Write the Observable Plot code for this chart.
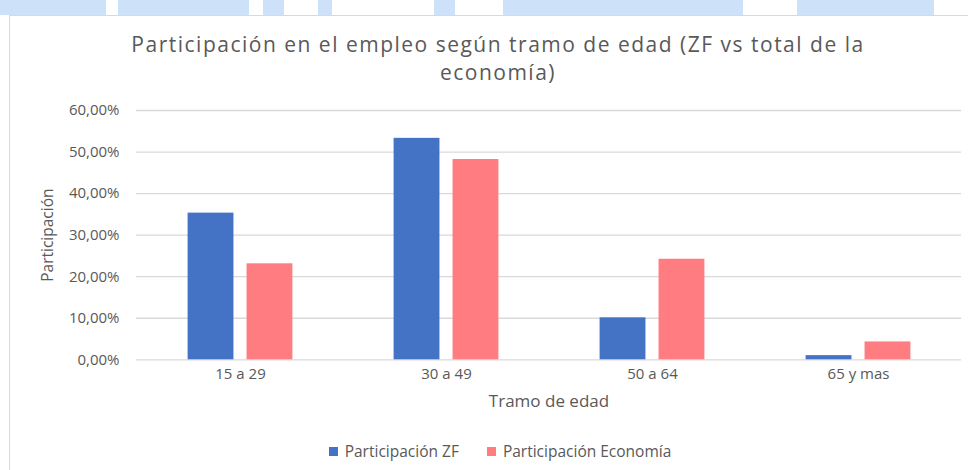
<!DOCTYPE html>
<html>
<head>
<meta charset="utf-8">
<script src="https://cdn.jsdelivr.net/npm/d3@7"></script>
<script src="https://cdn.jsdelivr.net/npm/@observablehq/plot@0.6"></script>
<style>
  html, body { margin: 0; padding: 0; background: #fff; }
  body { width: 968px; height: 470px; overflow: hidden; position: relative; font-family: "Open Sans", sans-serif; }
  .strip { position: absolute; top: 0; height: 15px; background: #cde2f8; }
  #frame { position: absolute; left: 9px; top: 15px; width: 980px; height: 480px;
           border-left: 1.5px solid #d9d9d9; border-top: 1.5px solid #d9d9d9; }
  #title { position: absolute; left: 0; top: 29.5px; width: 996px; text-align: center;
           font-size: 21px; letter-spacing: 1.5px; line-height: 28.8px; color: #595959; }
  #chart { position: absolute; left: 0; top: 95px; }
  #legend { position: absolute; left: 0; top: 440px; width: 1000px; display: flex; justify-content: center;
            gap: 28px; font-size: 15.5px; color: #595959; line-height: 22px; }
  .item { display: flex; align-items: center; gap: 7px; }
  .sw { width: 9px; height: 9px; display: inline-block; }
</style>
</head>
<body>
<div id="frame"></div>
<div id="title">Participación en el empleo según tramo de edad (ZF vs total de la<br>economía)</div>
<div id="chart"></div>
<div id="legend"></div>
<script>
const categories = ["15 a 29", "30 a 49", "50 a 64", "65 y mas"];
const series = ["Participación ZF", "Participación Economía"];
const zfValues = [0.353, 0.533, 0.101, 0.010];
const ecoValues = [0.231, 0.482, 0.242, 0.043];
const colors = ["#4472C4", "#FF7C80"];
const yTicks = [0, 0.1, 0.2, 0.3, 0.4, 0.5, 0.6];
const yDomain = [0, 0.6];

// decorative strip at top of the screenshot
const stripSegments = [[0,106],[118,249],[263,284],[318,332],[434,455],[503,743],[797,934]];
for (const [a, b] of stripSegments) {
  const d = document.createElement("div");
  d.className = "strip";
  d.style.left = a + "px";
  d.style.width = (b - a) + "px";
  document.body.appendChild(d);
}

const zfRows = categories.map((c, i) => ({cat: c, serie: series[0], value: zfValues[i]}));
const ecoRows = categories.map((c, i) => ({cat: c, serie: series[1], value: ecoValues[i]}));

const fmt = d => (d * 100).toFixed(2).replace(".", ",") + "%";
const ink = "#595959";

const chart = Plot.plot({
  width: 968,
  height: 330,
  marginLeft: 136,
  marginRight: 7,
  marginTop: 15,
  marginBottom: 65.7,
  style: {fontFamily: "'Open Sans', sans-serif", background: "transparent"},
  x: {domain: categories, padding: 0, axis: null},
  y: {domain: yDomain, axis: null},
  color: {domain: series, range: colors},
  marks: [
    Plot.ruleY(yTicks, {y: d => d, stroke: "#d9d9d9", strokeWidth: 1.3}),
    Plot.barY(zfRows, {x: "cat", y: "value", fill: "serie", insetLeft: 50.6, insetRight: 109.55}),
    Plot.barY(ecoRows, {x: "cat", y: "value", fill: "serie", insetLeft: 109.55, insetRight: 50.6}),
    Plot.text(yTicks, {y: d => d, text: fmt, frameAnchor: "left", dx: -17, textAnchor: "end",
      fontSize: 15, fill: ink}),
    Plot.text(categories, {x: d => d, text: d => d, frameAnchor: "bottom", dy: 19, fontSize: 15, fill: ink}),
    Plot.text(["Tramo de edad"], {text: d => d, frameAnchor: "bottom", dy: 47, fontSize: 17, fill: ink}),
    Plot.text(["Participación"], {text: d => d, y: () => d3.mean(yDomain), frameAnchor: "left", dx: -88.5,
      rotate: -90, textAnchor: "middle", fontSize: 15.5, fill: ink})
  ]
});
document.getElementById("chart").appendChild(chart);

const legend = document.getElementById("legend");
series.forEach((s, i) => {
  const it = document.createElement("div");
  it.className = "item";
  const sw = document.createElement("span");
  sw.className = "sw";
  sw.style.background = colors[i];
  const tx = document.createElement("span");
  tx.textContent = s;
  it.appendChild(sw);
  it.appendChild(tx);
  legend.appendChild(it);
});
</script>
</body>
</html>
